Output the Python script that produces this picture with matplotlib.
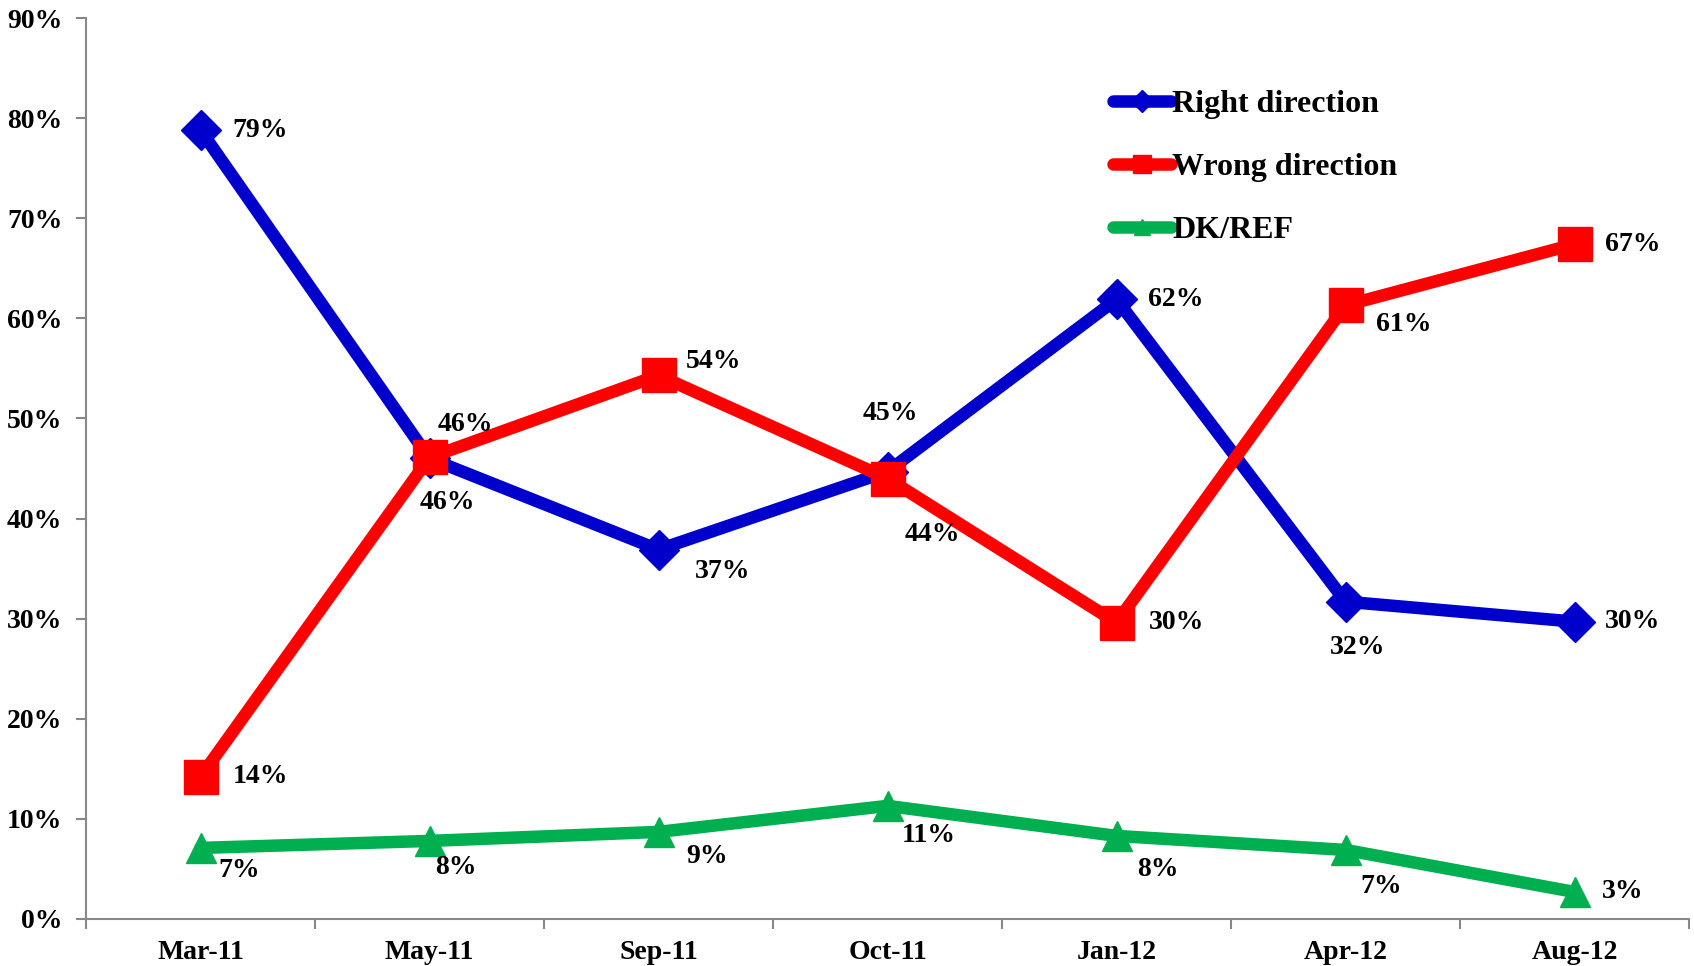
import numpy as np
import matplotlib
matplotlib.use("Agg")
import matplotlib.pyplot as plt

months = ["Mar-11", "May-11", "Sep-11", "Oct-11", "Jan-12", "Apr-12", "Aug-12"]
right = [78.8, 46.0, 36.9, 44.7, 61.9, 31.7, 29.7]
wrong = [14.2, 46.1, 54.3, 44.0, 29.6, 61.3, 67.4]
dkref = [7.1, 7.8, 8.7, 11.3, 8.3, 6.9, 2.7]

# label offsets in points (dx, dy), dy positive = up
right_off = [(43, 0), (13, -32), (46, -16), (2, 42), (43, 0), (9, -33), (42, 0)]
wrong_off = [(43, 0), (26, 24), (40, 10), (32, -40), (43, 0), (42, -14), (42, 0)]
dk_off = [(28, -16), (19, -19), (35, -18), (30, -21), (30, -24), (26, -26), (35, 0)]

plt.rcParams['font.family'] = ['Liberation Serif', 'DejaVu Serif']
plt.rcParams['font.weight'] = 'bold'

fig = plt.figure(figsize=(16.94, 9.66), dpi=100)
ax = fig.add_axes([86/1694, 47/966, 1603/1694, 901/966])

x = np.arange(len(months))
series = [
    ("Right direction", right, "#0000CC", "D", 20, right_off),
    ("Wrong direction", wrong, "#FF0000", "s", 24, wrong_off),
    ("DK/REF", dkref, "#00B050", "^", 22, dk_off),
]
for name, vals, col, mk, ms, offs in series:
    ax.plot(x, vals, color=col, lw=9, marker=mk, markersize=ms,
            solid_capstyle='round', label=name, zorder=3)
    for xi, v, (dx, dy) in zip(x, vals, offs):
        ax.annotate(f"{v:.0f}%", (xi, v), xytext=(dx, dy), textcoords='offset points',
                    ha='center', va='center', fontsize=20, fontweight='bold', zorder=4)

ax.set_xlim(-0.5, 6.5)
ax.set_ylim(0, 90)
ax.set_yticks(np.arange(0, 91, 10))
ax.set_yticklabels([f"{v}%" for v in range(0, 91, 10)], fontweight='bold')
ax.set_xticks(x)
ax.set_xticklabels(months, fontweight='bold')
ax.set_xticks(np.arange(-0.5, 7, 1), minor=True)
ax.tick_params(axis='x', which='major', length=0, pad=15, labelsize=20)
ax.tick_params(axis='x', which='minor', length=7, color='#888888', width=1.5)
ax.tick_params(axis='y', length=7, color='#888888', width=1.5, labelsize=20, pad=10)
for s in ['top', 'right']:
    ax.spines[s].set_visible(False)
for s in ['left', 'bottom']:
    ax.spines[s].set_color('#888888')
    ax.spines[s].set_linewidth(1.5)

ax.legend(loc='upper left', bbox_to_anchor=(1113/1694, 1 - 90/966),
          bbox_transform=fig.transFigure, frameon=False,
          prop={'weight': 'bold', 'size': 23, 'family': 'Liberation Serif'},
          handlelength=1.8, handletextpad=0.05, labelspacing=1.05,
          markerscale=0.55, borderpad=0, borderaxespad=0)

fig.savefig("out.png", dpi=100)
